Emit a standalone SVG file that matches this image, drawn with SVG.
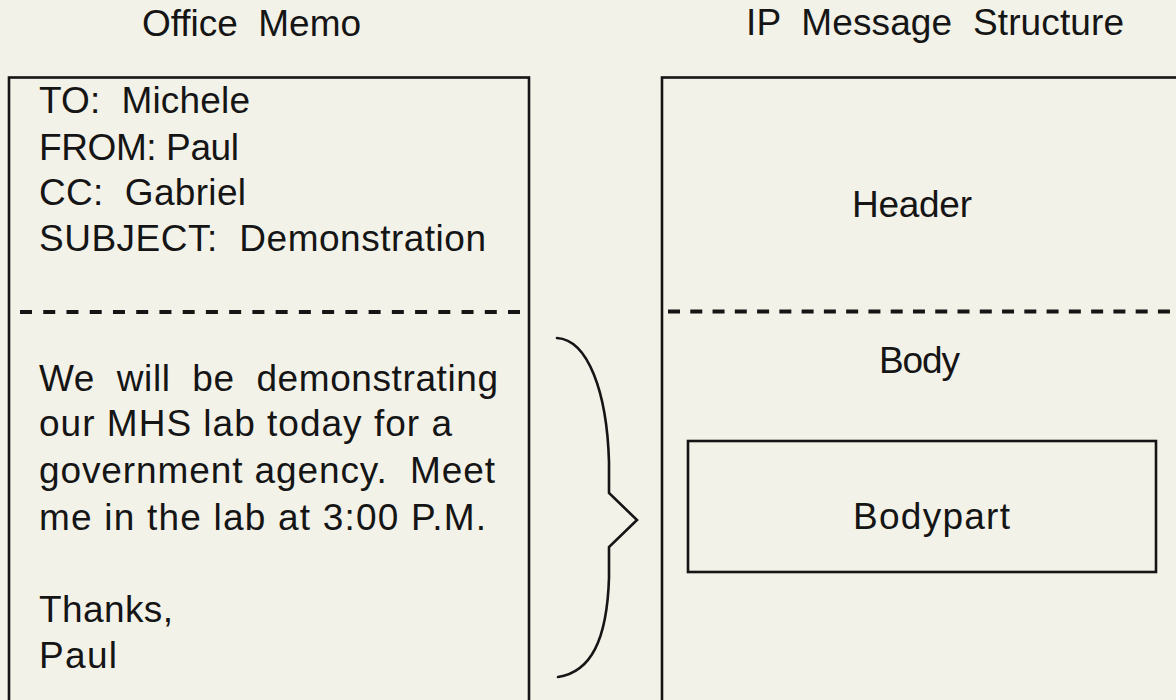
<svg xmlns="http://www.w3.org/2000/svg" width="1176" height="700" viewBox="0 0 1176 700">
  <style>
    .t { font-family: "Liberation Sans", Arial, Helvetica, sans-serif; font-size: 37px; fill: #151515; white-space: pre; }
    .box { fill: none; stroke: #151515; stroke-width: 2.6; }
    .dash { fill: none; stroke: #151515; stroke-width: 4; }
    .brace { fill: none; stroke: #151515; stroke-width: 2.6; stroke-linejoin: miter; stroke-linecap: round; }
  </style>
  <rect width="1176" height="700" fill="#f3f2e9"/>

  <!-- column titles -->
  <g id="titles">
    <text class="t" x="142" y="36" textLength="219" lengthAdjust="spacing">Office  Memo</text>
    <text class="t" x="746" y="35" textLength="378" lengthAdjust="spacing">IP  Message  Structure</text>
  </g>

  <!-- memo: header lines, divider, body lines -->
  <g id="memo">
    <rect class="box" x="9" y="77.5" width="520" height="660"/>
    <line class="dash" x1="20" y1="312" x2="520" y2="312" stroke-dasharray="12 11.24"/>
    <g id="memo-header">
      <text class="t" x="39" y="113" textLength="211" lengthAdjust="spacing">TO:  Michele</text>
      <text class="t" x="39" y="160" textLength="200" lengthAdjust="spacing">FROM: Paul</text>
      <text class="t" x="39" y="205" textLength="207" lengthAdjust="spacing">CC:  Gabriel</text>
      <text class="t" x="39" y="251" textLength="447" lengthAdjust="spacing">SUBJECT:  Demonstration</text>
    </g>
    <g id="memo-body">
      <text class="t" x="39" y="391" textLength="459" lengthAdjust="spacing">We  will  be  demonstrating</text>
      <text class="t" x="39" y="436" textLength="413" lengthAdjust="spacing">our MHS lab today for a</text>
      <text class="t" x="39" y="483" textLength="456" lengthAdjust="spacing">government agency.  Meet</text>
      <text class="t" x="39" y="530" textLength="447" lengthAdjust="spacing">me in the lab at 3:00 P.M.</text>
      <text class="t" x="39" y="622" textLength="134" lengthAdjust="spacing">Thanks,</text>
      <text class="t" x="39" y="668" textLength="78" lengthAdjust="spacing">Paul</text>
    </g>
  </g>

  <!-- IP message: header and body sections -->
  <g id="ip-message">
    <rect class="box" x="662" y="77.5" width="540" height="660"/>
    <line class="dash" x1="668" y1="311.5" x2="1176" y2="311.5" stroke-dasharray="12 10.27"/>
    <g id="ip-header">
      <text class="t" x="852" y="217" textLength="120" lengthAdjust="spacing">Header</text>
    </g>
    <g id="ip-body">
      <text class="t" x="879" y="373" textLength="81" lengthAdjust="spacing">Body</text>
    </g>
    <g id="ip-bodypart">
      <rect class="box" x="688" y="441" width="468" height="131"/>
      <text class="t" x="853" y="529" textLength="157" lengthAdjust="spacing">Bodypart</text>
    </g>
  </g>

  <!-- brace mapping the memo body onto the IP body -->
  <g id="connectors">
    <path class="brace" d="M557,338 C588,340 607,392 609,462 L609,493 L637,520 L609,547 L609,578 C607,640 591,672 558,677"/>
  </g>
</svg>
